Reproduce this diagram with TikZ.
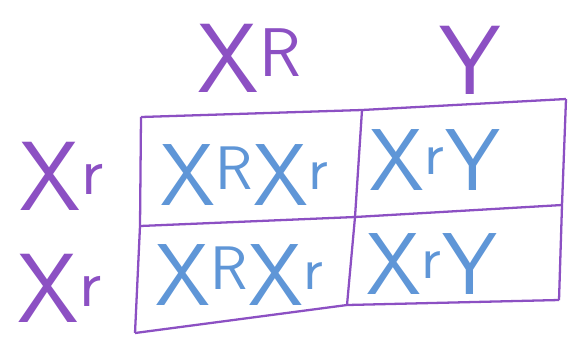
\documentclass[tikz,border=0pt]{standalone}
\usepackage{fontspec}
\usetikzlibrary{positioning}
\definecolor{penpurple}{RGB}{140,80,195}
\definecolor{penblue}{RGB}{95,150,215}
\begin{document}
\begin{tikzpicture}[x=0.02cm,y=-0.02cm,
  gamete/.style={text=penpurple,inner sep=0pt,font=\sffamily\fontsize{56}{56}\selectfont},
  offspring/.style={text=penblue,inner sep=0pt,font=\sffamily\fontsize{50}{50}\selectfont},
  every path/.style={line width=1.3pt}]
\useasboundingbox (0,0) rectangle (573,339);
% grid corners
\coordinate (tl) at (141,117);
\coordinate (tm) at (362,110);
\coordinate (tr) at (566,99);
\coordinate (ml) at (140,226);
\coordinate (mm) at (355,217);
\coordinate (mr) at (562,205);
\coordinate (bl) at (135,333);
\coordinate (bm) at (347,305);
\coordinate (br) at (559,300);
\draw[penpurple] (tl)--(tm)--(tr);
\draw[penpurple] (ml)--(mm)--(mr);
\draw[penpurple] (bl)--(bm)--(br);
\draw[penpurple] (tl)--(ml)--(bl);
\draw[penpurple] (tm)--(mm)--(bm);
\draw[penpurple] (tr)--(mr)--(br);
% gametes
\node[gamete] (dadx) at (250,58) {X\textsuperscript{R}};
\node[gamete] (dady) at (470,60) {Y};
\node[gamete] (momx1) at (62,176) {X\textsuperscript{r}};
\node[gamete] (momx2) at (60,288) {X\textsuperscript{r}};
% offspring
\node[offspring] (c11) at (245,175) {X\textsuperscript{R}X\textsuperscript{r}};
\node[offspring] (c12) at (435,160) {X\textsuperscript{r}Y};
\node[offspring] (c21) at (240,275) {X\textsuperscript{R}X\textsuperscript{r}};
\node[offspring] (c22) at (432,264) {X\textsuperscript{r}Y};
\end{tikzpicture}
\end{document}
